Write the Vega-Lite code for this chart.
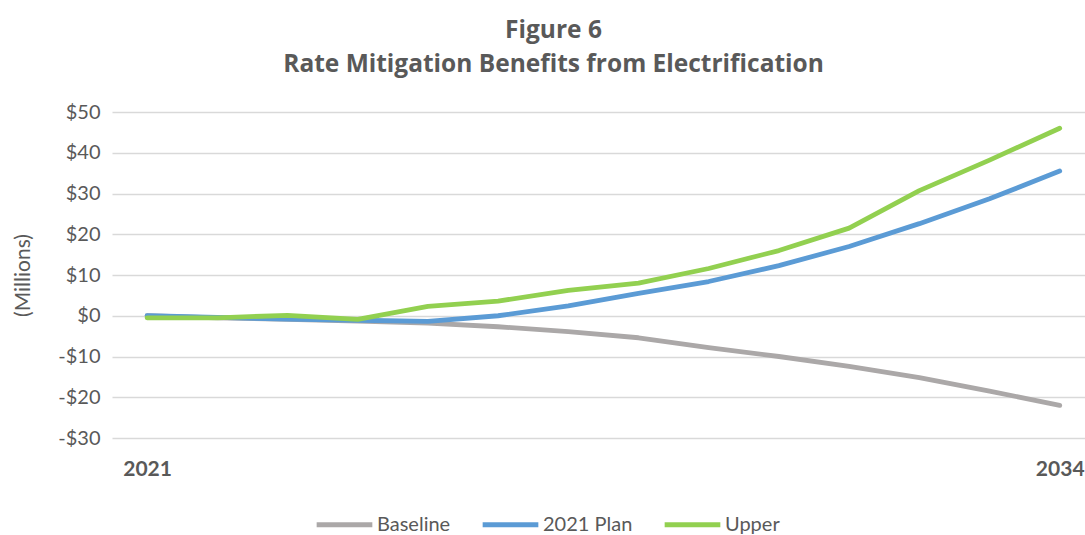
{
  "$schema": "https://vega.github.io/schema/vega-lite/v6.json",
  "width": 973,
  "height": 326,
  "autosize": {"type": "none"},
  "padding": {"left": 112, "top": 112, "right": 0, "bottom": 97},
  "background": "white",
  "title": {
    "text": ["Figure 6", "Rate Mitigation Benefits from Electrification"],
    "anchor": "middle",
    "dx": -45,
    "offset": 25,
    "font": "Open Sans",
    "fontSize": 24.5,
    "fontWeight": "bold",
    "color": "#595959",
    "lineHeight": 33.5
  },
  "data": {
    "values": [
      {"year": 2021, "series": "Baseline", "value": 0},
      {"year": 2022, "series": "Baseline", "value": -0.5},
      {"year": 2023, "series": "Baseline", "value": -0.9},
      {"year": 2024, "series": "Baseline", "value": -1.3},
      {"year": 2025, "series": "Baseline", "value": -1.8},
      {"year": 2026, "series": "Baseline", "value": -2.7},
      {"year": 2027, "series": "Baseline", "value": -3.9},
      {"year": 2028, "series": "Baseline", "value": -5.4},
      {"year": 2029, "series": "Baseline", "value": -7.8},
      {"year": 2030, "series": "Baseline", "value": -10.0},
      {"year": 2031, "series": "Baseline", "value": -12.4},
      {"year": 2032, "series": "Baseline", "value": -15.2},
      {"year": 2033, "series": "Baseline", "value": -18.5},
      {"year": 2034, "series": "Baseline", "value": -22.0},
      {"year": 2021, "series": "2021 Plan", "value": 0},
      {"year": 2022, "series": "2021 Plan", "value": -0.4},
      {"year": 2023, "series": "2021 Plan", "value": -0.8},
      {"year": 2024, "series": "2021 Plan", "value": -1.1},
      {"year": 2025, "series": "2021 Plan", "value": -1.4},
      {"year": 2026, "series": "2021 Plan", "value": 0.0},
      {"year": 2027, "series": "2021 Plan", "value": 2.4},
      {"year": 2028, "series": "2021 Plan", "value": 5.5},
      {"year": 2029, "series": "2021 Plan", "value": 8.4},
      {"year": 2030, "series": "2021 Plan", "value": 12.3},
      {"year": 2031, "series": "2021 Plan", "value": 17.0},
      {"year": 2032, "series": "2021 Plan", "value": 22.6},
      {"year": 2033, "series": "2021 Plan", "value": 28.7},
      {"year": 2034, "series": "2021 Plan", "value": 35.5},
      {"year": 2021, "series": "Upper", "value": -0.5},
      {"year": 2022, "series": "Upper", "value": -0.5},
      {"year": 2023, "series": "Upper", "value": 0.1},
      {"year": 2024, "series": "Upper", "value": -0.9},
      {"year": 2025, "series": "Upper", "value": 2.3},
      {"year": 2026, "series": "Upper", "value": 3.6},
      {"year": 2027, "series": "Upper", "value": 6.2},
      {"year": 2028, "series": "Upper", "value": 8.0},
      {"year": 2029, "series": "Upper", "value": 11.6},
      {"year": 2030, "series": "Upper", "value": 16.0},
      {"year": 2031, "series": "Upper", "value": 21.5},
      {"year": 2032, "series": "Upper", "value": 30.7},
      {"year": 2033, "series": "Upper", "value": 38.2},
      {"year": 2034, "series": "Upper", "value": 46.0}
    ]
  },
  "mark": {"type": "line", "strokeWidth": 4.8, "strokeCap": "round", "strokeJoin": "round", "clip": false},
  "encoding": {
    "x": {
      "field": "year",
      "type": "quantitative",
      "scale": {"domain": [2020.5, 2034.36], "nice": false, "zero": false},
      "axis": {
        "values": [2021, 2034],
        "format": "d",
        "title": null,
        "grid": false,
        "domain": false,
        "ticks": false,
        "labelPadding": 20,
        "labelFont": "Lato",
        "labelFontSize": 21,
        "labelFontWeight": "bold",
        "labelColor": "#595959"
      }
    },
    "y": {
      "field": "value",
      "type": "quantitative",
      "scale": {"domain": [-30, 50], "nice": false},
      "axis": {
        "values": [-30, -20, -10, 0, 10, 20, 30, 40, 50],
        "labelExpr": "datum.value < 0 ? '-$' + abs(datum.value) : '$' + datum.value",
        "title": "(Millions)",
        "titleFont": "Lato",
        "titleFontSize": 21,
        "titleFontWeight": "normal",
        "titleColor": "#595959",
        "titlePadding": 24,
        "domain": false,
        "ticks": false,
        "labelPadding": 12,
        "labelFont": "Lato",
        "labelFontSize": 20,
        "labelColor": "#595959",
        "gridColor": "#d9d9d9",
        "gridWidth": 1.3
      }
    },
    "color": {
      "field": "series",
      "type": "nominal",
      "sort": ["Baseline", "2021 Plan", "Upper"],
      "scale": {"domain": ["Baseline", "2021 Plan", "Upper"], "range": ["#ABA8A8", "#5B9BD5", "#92D050"]},
      "legend": {
        "title": null,
        "orient": "none",
        "direction": "horizontal",
        "legendX": 202,
        "legendY": 382,
        "symbolType": "stroke",
        "symbolSize": 3100,
        "symbolStrokeWidth": 4.8,
        "labelFont": "Lato",
        "labelFontSize": 20,
        "labelColor": "#595959",
        "labelOffset": 2,
        "columnPadding": 22
      }
    }
  },
  "config": {"view": {"stroke": null}}
}
